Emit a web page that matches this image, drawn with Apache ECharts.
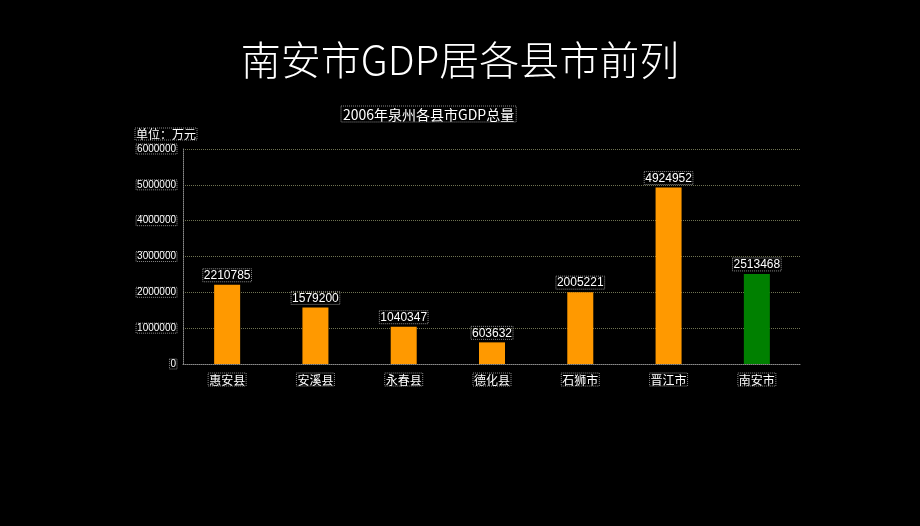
<!DOCTYPE html>
<html>
<head>
<meta charset="utf-8">
<script src="https://cdn.jsdelivr.net/npm/echarts@6/dist/echarts.min.js"></script>
<style>
  html,body{margin:0;padding:0;background:#000;}
  #main{width:920px;height:526px;}
</style>
</head>
<body>
<div id="main"></div>
<script>
// 2006年泉州各县市GDP总量（万元）
const counties = ['惠安县','安溪县','永春县','德化县','石狮市','晋江市','南安市']
const gdp = [2210785, 1579200, 1040347, 603632, 2005221, 4924952, 2513468]
const yTicks = [0, 1000000, 2000000, 3000000, 4000000, 5000000, 6000000]
const highlight = '南安市'

const font = '"Noto Sans CJK SC", "DejaVu Sans", sans-serif'
const numFont = '"Liberation Sans", Arial, sans-serif'
const dotBox = {
  borderColor: '#8a8a8a',
  borderWidth: 1,
  borderType: 'dotted'
}

let myChart = echarts.init(document.getElementById('main'))
myChart.setOption({
  backgroundColor: '#000',
  animation: false,
  title: [
    {
      text: '南安市GDP居各县市前列',
      left: 'center',
      top: 35,
      textStyle: {color: '#fff', fontSize: 40, fontWeight: 300, fontFamily: font}
    },
    {
      text: '{b|2006年泉州各县市GDP总量}',
      left: 336,
      top: 101,
      textStyle: {
        fontWeight: 'normal',
        rich: {
          b: Object.assign({color: '#fff', fontSize: 14, fontWeight: 'normal', fontFamily: font, padding: [2, 2, 0, 2]}, dotBox)
        }
      }
    },
    {
      text: '{b|单位：万元}',
      left: 130,
      top: 123,
      textStyle: {
        fontWeight: 'normal',
        rich: {
          b: Object.assign({color: '#fff', fontSize: 12, fontWeight: 'normal', fontFamily: font, padding: [0, 1, 0, 1]}, dotBox)
        }
      }
    }
  ],
  grid: {left: 183, right: 119, top: 149, bottom: 162},
  xAxis: {
    type: 'category',
    data: counties,
    axisLine: {lineStyle: {color: '#8a8a8a', type: 'dotted'}},
    axisTick: {inside: true, length: 4, lineStyle: {color: '#8a8a8a'}},
    axisLabel: Object.assign({
      color: '#fff', fontSize: 12, fontFamily: font, margin: 9, padding: [1, 1, 0, 1]
    }, dotBox)
  },
  yAxis: {
    type: 'value',
    min: 0,
    max: 6000000,
    interval: 1000000,
    axisLine: {show: true, lineStyle: {color: '#8a8a8a', type: 'dotted'}},
    axisTick: {show: false},
    splitLine: {lineStyle: {color: '#6f7352', type: 'dotted'}},
    axisLabel: Object.assign({
      color: '#fff', fontSize: 10, fontFamily: numFont, margin: 6, padding: [0, 1],
      formatter: v => yTicks.includes(v) ? String(v) : ''
    }, dotBox)
  },
  series: [{
    type: 'bar',
    barWidth: 26,
    data: gdp.map((v, i) => ({
      value: v,
      itemStyle: {color: counties[i] === highlight ? '#008000' : '#ff9900'}
    })),
    label: Object.assign({
      show: true,
      position: 'top',
      distance: 3,
      color: '#fff',
      fontSize: 12,
      fontFamily: numFont,
      padding: [1, 1, 0, 1]
    }, dotBox)
  }]
})
</script>
</body>
</html>
